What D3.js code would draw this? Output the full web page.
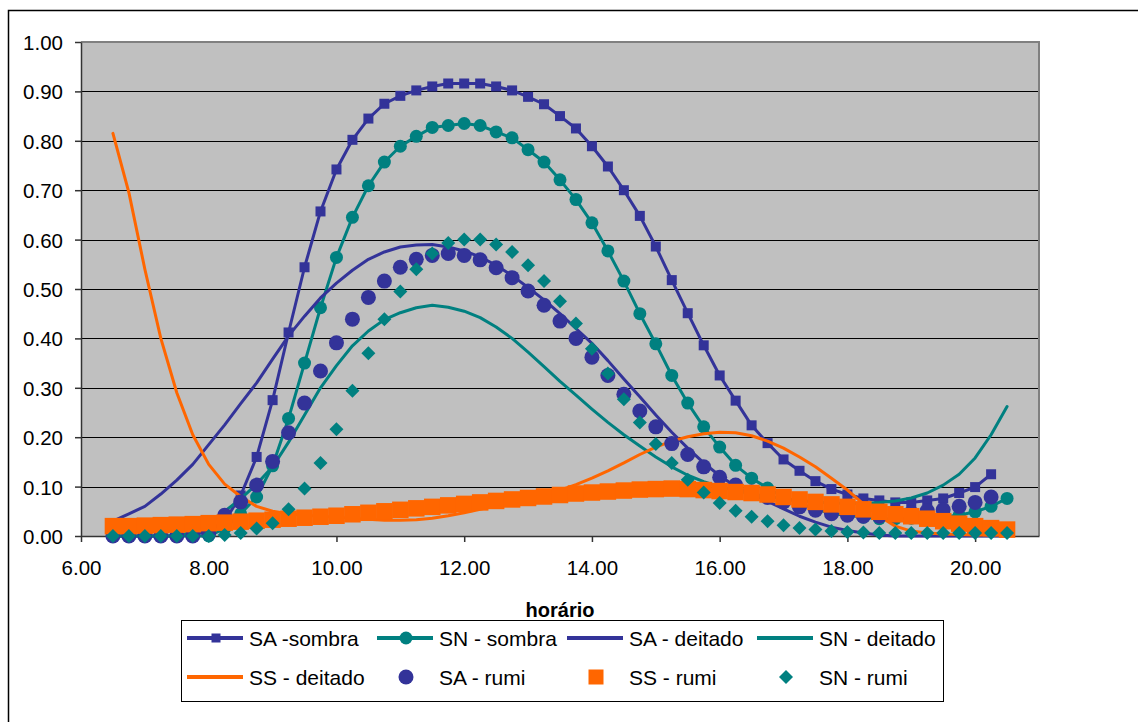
<!DOCTYPE html>
<html>
<head>
<meta charset="utf-8">
<script src="https://cdn.jsdelivr.net/npm/d3@7"></script>
<style>
  html, body { margin: 0; padding: 0; background: #fff; }
  svg { display: block; font-family: "Liberation Sans", Arial, sans-serif; }
</style>
</head>
<body>
<svg id="chart" width="1138" height="722"></svg>
<script>
// Time of day (hours, every 15 minutes)
const hours = [6.5, 6.75, 7.0, 7.25, 7.5, 7.75, 8.0, 8.25, 8.5, 8.75, 9.0, 9.25, 9.5, 9.75,
  10.0, 10.25, 10.5, 10.75, 11.0, 11.25, 11.5, 11.75, 12.0, 12.25, 12.5, 12.75, 13.0, 13.25,
  13.5, 13.75, 14.0, 14.25, 14.5, 14.75, 15.0, 15.25, 15.5, 15.75, 16.0, 16.25, 16.5, 16.75,
  17.0, 17.25, 17.5, 17.75, 18.0, 18.25, 18.5, 18.75, 19.0, 19.25, 19.5, 19.75, 20.0, 20.25, 20.5];

const saSombra = [0, 0, 0, 0, 0, 0.002, 0.01, 0.03, 0.082, 0.16, 0.275, 0.412, 0.544, 0.657,
  0.742, 0.802, 0.845, 0.875, 0.891, 0.902, 0.91, 0.916, 0.916, 0.916, 0.91, 0.902, 0.889, 0.874,
  0.85, 0.825, 0.789, 0.748, 0.70, 0.648, 0.586, 0.518, 0.451, 0.386, 0.325, 0.274, 0.224, 0.188,
  0.155, 0.132, 0.111, 0.095, 0.084, 0.076, 0.072, 0.068, 0.068, 0.072, 0.076, 0.087, 0.099, 0.125, null];

const snSombra = [0, 0, 0, 0, 0, 0, 0, 0.015, 0.045, 0.079, 0.142, 0.238, 0.35, 0.462,
  0.564, 0.645, 0.709, 0.757, 0.789, 0.809, 0.827, 0.831, 0.835, 0.831, 0.818, 0.806, 0.782, 0.757,
  0.721, 0.681, 0.634, 0.577, 0.516, 0.45, 0.389, 0.325, 0.269, 0.221, 0.18, 0.143, 0.117, 0.097,
  0.079, 0.066, 0.055, 0.045, 0.042, 0.038, 0.035, 0.035, 0.036, 0.037, 0.039, 0.042, 0.049, 0.06, 0.076];

const saDeitado = [0.03, 0.045, 0.06, 0.085, 0.113, 0.145, 0.185, 0.225, 0.268, 0.31, 0.358, 0.405, 0.445, 0.482,
  0.512, 0.538, 0.56, 0.575, 0.585, 0.589, 0.59, 0.585, 0.577, 0.565, 0.548, 0.527, 0.503, 0.478,
  0.45, 0.42, 0.39, 0.355, 0.318, 0.282, 0.245, 0.21, 0.178, 0.148, 0.122, 0.10, 0.085, 0.07,
  0.055, 0.04, 0.028, 0.018, 0.011, 0.006, 0.002, 0, 0, 0, 0, 0, 0, 0, 0];

const snDeitado = [0, 0, 0, 0, 0, 0.008, 0.025, 0.05, 0.075, 0.105, 0.14, 0.19, 0.245, 0.30,
  0.345, 0.385, 0.415, 0.438, 0.452, 0.462, 0.467, 0.463, 0.455, 0.442, 0.423, 0.40, 0.372, 0.343,
  0.313, 0.285, 0.257, 0.23, 0.205, 0.182, 0.16, 0.14, 0.123, 0.11, 0.10, 0.092, 0.085, 0.08,
  0.076, 0.072, 0.069, 0.067, 0.066, 0.066, 0.068, 0.071, 0.077, 0.087, 0.103, 0.125, 0.158, 0.205, 0.262];

const ssDeitado = [0.815, 0.695, 0.54, 0.40, 0.29, 0.205, 0.145, 0.105, 0.08, 0.06, 0.05, 0.045, 0.042, 0.04,
  0.038, 0.036, 0.034, 0.032, 0.032, 0.033, 0.036, 0.041, 0.047, 0.054, 0.061, 0.068, 0.075, 0.083,
  0.093, 0.104, 0.117, 0.132, 0.148, 0.165, 0.18, 0.192, 0.201, 0.207, 0.21, 0.209, 0.203, 0.192,
  0.178, 0.16, 0.14, 0.117, 0.093, 0.065, 0.04, 0.02, 0.01, 0.006, 0.004, 0.003, 0.002, 0.002, 0.002];

const saRumi = [0, 0, 0, 0, 0, 0, 0.005, 0.042, 0.069, 0.103, 0.151, 0.209, 0.269, 0.334,
  0.391, 0.439, 0.483, 0.516, 0.544, 0.56, 0.568, 0.572, 0.568, 0.559, 0.543, 0.523, 0.496, 0.467,
  0.435, 0.40, 0.362, 0.325, 0.287, 0.253, 0.221, 0.187, 0.165, 0.14, 0.119, 0.103, 0.089, 0.078,
  0.069, 0.059, 0.052, 0.045, 0.042, 0.04, 0.04, 0.042, 0.047, 0.051, 0.053, 0.06, 0.068, 0.079, null];

const ssRumi = [0.02, 0.02, 0.021, 0.022, 0.023, 0.024, 0.026, 0.027, 0.029, 0.031, 0.033, 0.035, 0.037, 0.039,
  0.041, 0.044, 0.047, 0.05, 0.053, 0.056, 0.059, 0.062, 0.065, 0.068, 0.071, 0.074, 0.077, 0.08,
  0.083, 0.086, 0.088, 0.09, 0.092, 0.094, 0.095, 0.096, 0.095, 0.093, 0.091, 0.089, 0.087, 0.084,
  0.079, 0.074, 0.069, 0.064, 0.059, 0.054, 0.049, 0.044, 0.04, 0.035, 0.03, 0.025, 0.02, 0.016, 0.013];

const snRumi = [0, 0, 0, 0, 0, 0, 0, 0.002, 0.006, 0.015, 0.026, 0.054, 0.096, 0.148,
  0.216, 0.294, 0.37, 0.439, 0.495, 0.54, 0.572, 0.593, 0.60, 0.60, 0.59, 0.575, 0.548, 0.516,
  0.475, 0.43, 0.379, 0.329, 0.277, 0.23, 0.186, 0.148, 0.114, 0.088, 0.067, 0.051, 0.039, 0.03,
  0.022, 0.016, 0.013, 0.01, 0.008, 0.007, 0.006, 0.006, 0.006, 0.006, 0.006, 0.006, 0.006, 0.006, 0.006];

const xTicks = [6, 8, 10, 12, 14, 16, 18, 20];
const yTicks = [0, 0.1, 0.2, 0.3, 0.4, 0.5, 0.6, 0.7, 0.8, 0.9, 1.0];
const xTitle = "horário";

const NAVY = "#333399", TEAL = "#008080", ORANGE = "#FF6600";

// Series in drawing order; later ones sit on top
const series = [
  { name: "SA -sombra",  values: saSombra,  color: NAVY,   line: true,  marker: "square",  size: 10 },
  { name: "SN - sombra", values: snSombra,  color: TEAL,   line: true,  marker: "circle",  size: 13 },
  { name: "SA - deitado", values: saDeitado, color: NAVY,  line: true,  marker: null },
  { name: "SN - deitado", values: snDeitado, color: TEAL,  line: true,  marker: null },
  { name: "SS - deitado", values: ssDeitado, color: ORANGE, line: true, marker: null },
  { name: "SA - rumi",   values: saRumi,    color: NAVY,   line: false, marker: "circle",  size: 15 },
  { name: "SS - rumi",   values: ssRumi,    color: ORANGE, line: false, marker: "square",  size: 16.5 },
  { name: "SN - rumi",   values: snRumi,    color: TEAL,   line: false, marker: "diamond", size: 14 }
];

const svg = d3.select("#chart");

// outer frame
svg.append("rect").attr("x", 8.5).attr("y", 10.5).attr("width", 1200).attr("height", 800)
  .attr("fill", "#fff").attr("stroke", "#000").attr("stroke-width", 1.5);

const x = d3.scaleLinear().domain([6, 21]).range([81, 1039]);
const y = d3.scaleLinear().domain([0, 1]).range([536, 42]);

// plot area
svg.append("rect").attr("x", x(6)).attr("y", y(1))
  .attr("width", x(21) - x(6)).attr("height", y(0) - y(1))
  .attr("fill", "#C0C0C0");

// horizontal gridlines
svg.append("g").selectAll("line").data(yTicks.filter(d => d > 0 && d < 1)).join("line")
  .attr("x1", x(6)).attr("x2", x(21))
  .attr("y1", d => Math.round(y(d)) + 0.5).attr("y2", d => Math.round(y(d)) + 0.5)
  .attr("stroke", "#000").attr("stroke-width", 1);

// plot border top / right
svg.append("path")
  .attr("d", `M${x(6)},${y(1)}H${x(21)}V${y(0)}`)
  .attr("fill", "none").attr("stroke", "#808080").attr("stroke-width", 2);

// axes
const fmt = d3.format(".2f");
const yAxis = svg.append("g").attr("transform", `translate(${x(6)},0)`)
  .call(d3.axisLeft(y).tickValues(yTicks).tickFormat(fmt).tickSize(6).tickSizeOuter(0).tickPadding(12));
const xAxis = svg.append("g").attr("transform", `translate(0,${y(0)})`)
  .call(d3.axisBottom(x).tickValues(xTicks).tickFormat(fmt).tickSize(6).tickSizeOuter(0).tickPadding(18));

[yAxis, xAxis].forEach(g => {
  g.select(".domain").attr("stroke", "#333").attr("stroke-width", 1.5);
  g.selectAll(".tick line").attr("stroke", "#333").attr("stroke-width", 1.5);
  g.selectAll(".tick text").attr("fill", "#000")
    .style("font-size", "20.5px").style("font-family", "'Liberation Sans', Arial, sans-serif");
});
yAxis.selectAll(".tick text").attr("dy", "0.37em");

// axis title
svg.append("text").attr("x", 560).attr("y", 617)
  .attr("text-anchor", "middle").style("font-size", "20px").style("font-weight", "bold")
  .text(xTitle);

// marker drawing helper
function drawMarker(sel, type, size, color) {
  if (type === "square") {
    sel.append("rect").attr("x", -size / 2).attr("y", -size / 2)
      .attr("width", size).attr("height", size).attr("fill", color);
  } else if (type === "circle") {
    sel.append("circle").attr("r", size / 2).attr("fill", color);
  } else if (type === "diamond") {
    const h = size / 2;
    sel.append("path").attr("d", `M0,${-h}L${h},0L0,${h}L${-h},0Z`).attr("fill", color);
  }
}

const line = d3.line()
  .defined(d => d.v != null)
  .x(d => x(d.t)).y(d => y(d.v));

const plot = svg.append("g");
series.forEach(s => {
  const pts = hours.map((t, i) => ({ t, v: s.values[i] }));
  const g = plot.append("g");
  if (s.line) {
    g.append("path").datum(pts).attr("d", line)
      .attr("fill", "none").attr("stroke", s.color).attr("stroke-width", 3)
      .attr("stroke-linejoin", "round").attr("stroke-linecap", "round");
  }
  if (s.marker) {
    g.selectAll("g.m").data(pts.filter(d => d.v != null)).join("g")
      .attr("class", "m")
      .attr("transform", d => `translate(${x(d.t)},${y(d.v)})`)
      .each(function () { drawMarker(d3.select(this), s.marker, s.size, s.color); });
  }
});

// legend
const legend = svg.append("g");
legend.append("rect").attr("x", 181.5).attr("y", 620.5).attr("width", 762).attr("height", 81)
  .attr("fill", "#fff").attr("stroke", "#000").attr("stroke-width", 1);

const colX = [187, 377, 567, 757];
const rowY = [638, 677];
series.forEach((s, i) => {
  const cx = colX[i % 4], cy = rowY[Math.floor(i / 4)];
  const item = legend.append("g").attr("transform", `translate(${cx},${cy})`);
  if (s.line) {
    item.append("line").attr("x1", 0).attr("x2", 56).attr("y1", 0).attr("y2", 0)
      .attr("stroke", s.color).attr("stroke-width", 4);
  }
  if (s.marker) {
    const m = item.append("g").attr("transform", "translate(29,0)");
    const sz = s.line ? (s.marker === "square" ? 9 : 13) : (s.marker === "square" ? 15 : s.size);
    drawMarker(m, s.marker, sz, s.color);
  }
  item.append("text").attr("x", 62).attr("y", 0).attr("dy", "0.36em")
    .style("font-size", "21px").attr("fill", "#000").text(s.name);
});
</script>
</body>
</html>
